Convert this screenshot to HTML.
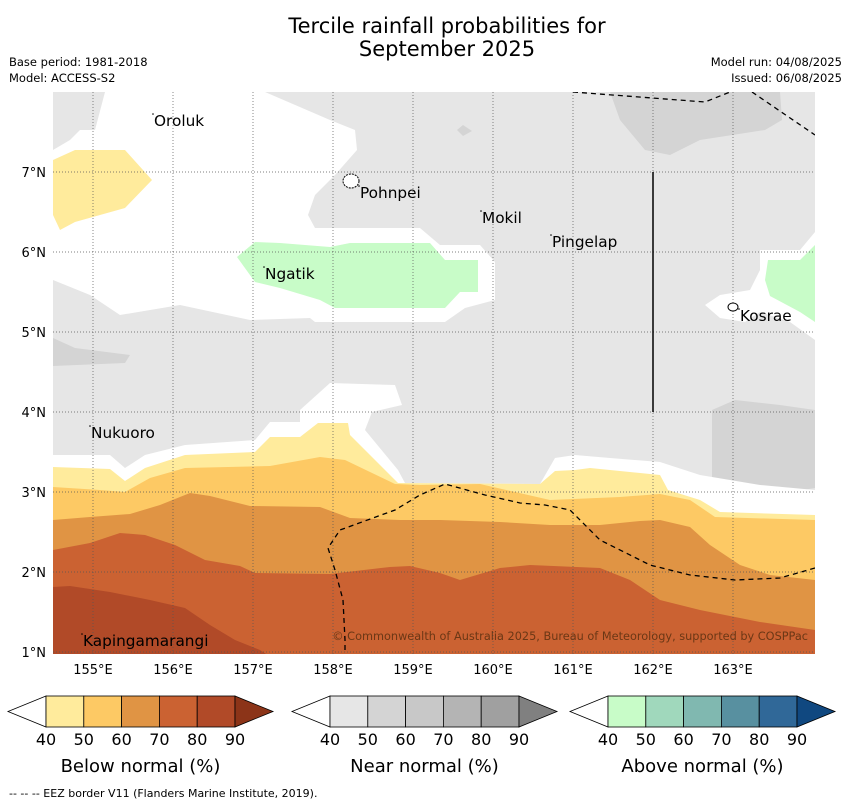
<!DOCTYPE html>
<html><head><meta charset="utf-8"><style>
body{margin:0;background:#fff;font-family:"DejaVu Sans","Liberation Sans",sans-serif;}
svg{display:block}
</style></head><body>
<svg id="s" width="850" height="804" viewBox="0 0 850 804" xmlns="http://www.w3.org/2000/svg" font-family="DejaVu Sans, Liberation Sans, sans-serif">
<text x="447" y="33" font-size="21" text-anchor="middle">Tercile rainfall probabilities for</text>
<text x="447" y="56" font-size="21" text-anchor="middle">September 2025</text>
<text x="9" y="66" font-size="11.5">Base period: 1981-2018</text>
<text x="9" y="82" font-size="11.5">Model: ACCESS-S2</text>
<text x="842" y="66" font-size="11.5" text-anchor="end">Model run: 04/08/2025</text>
<text x="842" y="82" font-size="11.5" text-anchor="end">Issued: 06/08/2025</text>
<defs><clipPath id="mc"><rect x="53" y="92" width="762" height="562"/></clipPath></defs>
<g id="map" clip-path="url(#mc)"></g>
<g id="ov"></g>
<g id="cb"></g>
<text x="9" y="797" font-size="11">--  --  -- EEZ border V11 (Flanders Marine Institute, 2019).</text>
</svg>
<script>
const NS='http://www.w3.org/2000/svg';
const lonMin=154.5, latMax=8.0, pxPerDeg=80, x0=53, y0=92;
const lonTicks=[155,156,157,158,159,160,161,162,163];
const latTicks=[1,2,3,4,5,6,7];
function L(p){return p.map(([x,y])=>[lonMin+(x-x0)/pxPerDeg, latMax-(y-y0)/pxPerDeg]);}
const grayDark1=L([[610,92],[780,92],[782,120],[765,130],[700,140],[670,155],[645,150],[620,120]]);
const grayDark2=L([[712,410],[735,400],[780,405],[815,410],[815,488],[790,492],[730,492],[712,480],[712,430]]);
const grayDark3=L([[53,338],[75,348],[130,355],[125,363],[53,366]]);
const grayDark4=L([[457,130],[463,125],[472,131],[463,136]]);
const whiteTop=L([[105,92],[265,92],[330,120],[355,130],[357,150],[335,175],[315,195],[308,215],[315,228],[420,228],[440,245],[480,245],[495,262],[495,300],[465,308],[445,322],[315,322],[310,318],[250,320],[180,305],[120,315],[90,295],[53,280],[53,150],[70,140],[80,130],[95,130]]);
const whiteKos=L([[760,250],[800,250],[815,232],[815,340],[790,322],[760,312],[745,322],[720,318],[705,305],[720,295],[750,290],[760,270]]);
const whiteBot=L([[53,455],[110,455],[125,468],[145,455],[185,445],[255,440],[270,422],[300,422],[300,410],[330,383],[395,385],[402,405],[372,412],[365,430],[398,470],[405,483],[540,484],[555,458],[575,455],[610,458],[660,462],[700,475],[760,485],[815,490],[815,654],[53,654]]);
const yellow1=L([[53,160],[75,150],[125,150],[152,180],[125,208],[75,222],[60,230],[53,215]]);
const greenN=L([[237,257],[255,242],[280,243],[330,247],[350,243],[430,243],[445,260],[478,260],[478,292],[460,292],[445,308],[335,308],[320,300],[280,288],[255,282]]);
const greenK=L([[768,260],[800,260],[815,245],[815,322],[800,312],[770,296],[765,280]]);
const b40=L([[53,467],[110,469],[125,481],[145,468],[185,455],[255,452],[270,437],[300,437],[318,423],[348,423],[350,435],[370,455],[398,483],[540,484],[555,471],[575,470],[590,468],[610,470],[660,475],[668,490],[700,500],[720,512],[815,515],[815,654],[53,654]]);
const b50=L([[53,487],[100,490],[125,492],[150,478],[185,468],[270,466],[320,457],[345,460],[370,472],[395,484],[420,485],[480,484],[550,500],[620,497],[660,494],[690,500],[715,517],[815,520],[815,654],[53,654]]);
const b60=L([[53,520],[90,517],[130,514],[160,505],[190,493],[210,496],[250,506],[320,507],[350,518],[400,520],[440,520],[500,522],[550,525],[600,525],[640,521],[660,520],[690,527],[710,545],[740,565],[770,575],[815,580],[815,654],[53,654]]);
const b70=L([[53,550],[90,543],[120,533],[145,535],[175,545],[205,560],[240,566],[255,573],[330,574],[390,567],[410,566],[440,573],[460,580],[500,568],[530,565],[600,568],[630,580],[660,600],[700,610],[760,622],[815,630],[815,654],[53,654]]);
const b80=L([[53,587],[70,586],[110,592],[150,600],[185,608],[210,625],[235,640],[260,650],[275,660],[53,660]]);
const eezTop=L([[573,92],[705,102],[735,90]]);
const eezTop2=L([[752,92],[815,135]]);
const eezBot=L([[815,568],[780,578],[735,580],[690,575],[650,565],[600,540],[570,510],[545,505],[520,503],[485,495],[445,484],[420,495],[395,510],[340,530],[328,548],[335,570],[343,600],[345,640],[345,660]]);
const islands=[["Oroluk",154,126],["Pohnpei",360,198],["Mokil",482,223],["Pingelap",552,247],["Ngatik",265,279],["Kosrae",740,321],["Nukuoro",91,438],["Kapingamarangi",83,646]];
function X(lon){return x0+(lon-lonMin)*pxPerDeg;}
function Y(lat){return y0+(latMax-lat)*pxPerDeg;}
function el(t,a,p){const e=document.createElementNS(NS,t);for(const k in a)e.setAttribute(k,a[k]);p.appendChild(e);return e;}
const map=document.getElementById('map'),ov=document.getElementById('ov'),cb=document.getElementById('cb');
function poly(pts,fill,name){const e=el('polygon',{points:pts.map(p=>X(p[0])+','+Y(p[1])).join(' '),fill:fill},map);

return e;}
let bg=el('rect',{x:53,y:92,width:762,height:562,fill:'#e6e6e6'},map);


poly(grayDark1,'#d4d4d4','near-normal-50-60-north');
poly(grayDark2,'#d4d4d4','near-normal-50-60-east');
poly(grayDark3,'#d4d4d4','near-normal-50-60-west');
poly(grayDark4,'#d4d4d4','near-normal-50-60-small');
poly(whiteTop,'#ffffff','no-dominant-north');
poly(whiteKos,'#ffffff','no-dominant-kosrae');
poly(whiteBot,'#ffffff','no-dominant-south');
poly(yellow1,'#ffeb9c','below-40-50-northwest');
poly(greenN,'#c8fcc8','above-40-50-ngatik');
poly(greenK,'#c8fcc8','above-40-50-kosrae');
poly(b40,'#ffeb9c','below-40-50-band');
poly(b50,'#fdc964','below-50-60-band');
poly(b60,'#e09444','below-60-70-band');
poly(b70,'#cb6232','below-70-80-band');
poly(b80,'#b14a28','below-80-90-band');
lonTicks.forEach(l=>{let g=el('line',{x1:X(l),x2:X(l),y1:92,y2:654,stroke:'#555','stroke-width':0.7,'stroke-dasharray':'1,2'},ov);


let t=el('text',{x:X(l),y:674,'font-size':13,'text-anchor':'middle'},ov);t.textContent=l+'°E';

});
latTicks.forEach(l=>{let g=el('line',{x1:53,x2:815,y1:Y(l),y2:Y(l),stroke:'#555','stroke-width':0.7,'stroke-dasharray':'1,2'},ov);


let t=el('text',{x:46,y:Y(l)+5,'font-size':13,'text-anchor':'end'},ov);t.textContent=l+'°N';

});
[eezTop,eezTop2,eezBot].forEach(p=>{let e=el('polyline',{points:p.map(q=>X(q[0])+','+Y(q[1])).join(' '),fill:'none',stroke:'#000','stroke-width':1.3,'stroke-dasharray':'5,4','clip-path':'url(#mc)'},ov);

});
let vl=el('line',{x1:X(162),x2:X(162),y1:Y(7),y2:Y(4),stroke:'#000','stroke-width':1.5},ov);


let pn=el('ellipse',{cx:351,cy:181,rx:8,ry:7,fill:'#fff',stroke:'#000','stroke-width':1,'stroke-dasharray':'2,1'},ov);


let ks=el('ellipse',{cx:733,cy:307,rx:5,ry:4,fill:'#fff',stroke:'#000','stroke-width':1},ov);


islands.forEach(([n,tx,ty])=>{let d=el('circle',{cx:tx-1,cy:ty-12,r:0.8,fill:'#000'},ov);


let t=el('text',{x:tx,y:ty,'font-size':15.3},ov);t.textContent=n;

});
let cp=el('text',{x:808,y:640,'font-size':11.3,'text-anchor':'end',fill:'#5a3010','fill-opacity':0.85},ov);
cp.textContent='© Commonwealth of Australia 2025, Bureau of Meteorology, supported by COSPPac';


const cbTitles=['Below normal (%)','Near normal (%)','Above normal (%)'];
const cbLabels=['40','50','60','70','80','90'];
const cbColors=[['#ffeb9c','#fdc964','#e09444','#cb6232','#b14a28','#8c3418'],['#e6e6e6','#d4d4d4','#c8c8c8','#b4b4b4','#a0a0a0','#808080'],['#c8fcc8','#a0d8bc','#80b8b0','#5890a0','#306898','#104880']];
const cbLeft=[46,330,608];
cbLeft.forEach((L0,i)=>{const w=37.8,yt=696,yb=727,ym=711.5;
let lt=el('polygon',{points:`${L0},${yt} ${L0-38},${ym} ${L0},${yb}`,fill:'#fff',stroke:'#000','stroke-width':0.8},cb);


for(let k=0;k<5;k++){let r=el('rect',{x:L0+k*w,y:yt,width:w,height:yb-yt,fill:cbColors[i][k],stroke:'#000','stroke-width':0.8},cb);

}
const R=L0+5*w;
let rt=el('polygon',{points:`${R},${yt} ${R+38},${ym} ${R},${yb}`,fill:cbColors[i][5],stroke:'#000','stroke-width':0.8},cb);


cbLabels.forEach((t,k)=>{let e=el('text',{x:L0+k*w,y:745,'font-size':16,'text-anchor':'middle'},cb);e.textContent=t;

});
let tt=el('text',{x:L0+2.5*w,y:772,'font-size':18,'text-anchor':'middle'},cb);tt.textContent=cbTitles[i];


});
</script>
</body></html>
